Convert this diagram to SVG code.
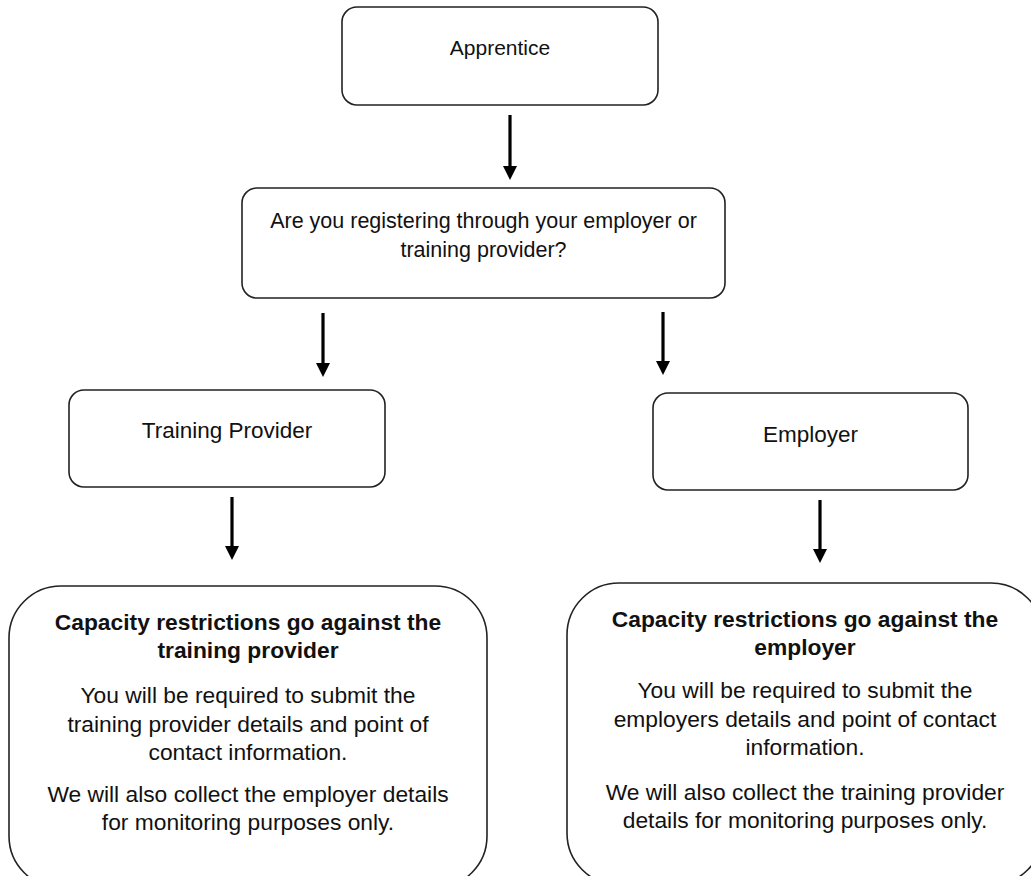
<svg xmlns="http://www.w3.org/2000/svg" width="1031" height="876" viewBox="0 0 1031 876">
<style>
.box{fill:#fff;stroke:#222;stroke-width:1.6}
.t{font-family:"Liberation Sans",Arial,sans-serif;fill:#111;text-anchor:middle}
.b{font-weight:bold}
.conn{stroke:#000;stroke-width:3.2;fill:none}
</style>
<defs>
<marker id="ah" viewBox="0 0 14 14" refX="1" refY="7" markerWidth="14" markerHeight="14" markerUnits="userSpaceOnUse" orient="auto">
<path d="M0,0 L14,7 L0,14 z" fill="#000"/>
</marker>
</defs>
<rect width="1031" height="876" fill="#fff"/>
<g id="connectors">
<line class="conn" x1="510" y1="115" x2="510" y2="167" marker-end="url(#ah)"/>
<line class="conn" x1="323" y1="313" x2="323" y2="364" marker-end="url(#ah)"/>
<line class="conn" x1="663" y1="312" x2="663" y2="362" marker-end="url(#ah)"/>
<line class="conn" x1="232" y1="497" x2="232" y2="547" marker-end="url(#ah)"/>
<line class="conn" x1="820" y1="500" x2="820" y2="550" marker-end="url(#ah)"/>
</g>
<g id="apprentice">
<rect class="box" x="342" y="7" width="316" height="98" rx="15"/>
<text class="t" x="500" y="55" font-size="21">Apprentice</text>
</g>
<g id="question">
<rect class="box" x="242" y="188" width="483" height="110" rx="15"/>
<text class="t" x="483.5" y="228" font-size="21.5">Are you registering through your employer or</text>
<text class="t" x="483.5" y="257" font-size="21.5">training provider?</text>
</g>
<g id="training-provider">
<rect class="box" x="69" y="390" width="316" height="97" rx="15"/>
<text class="t" x="227" y="438" font-size="22.5">Training Provider</text>
</g>
<g id="employer">
<rect class="box" x="653" y="393" width="315" height="97" rx="15"/>
<text class="t" x="810.5" y="442" font-size="22.5">Employer</text>
</g>
<g id="tp-result">
<rect class="box" x="9" y="586" width="478" height="302" rx="52"/>
<text class="t b" x="248" y="630" font-size="22.8">Capacity restrictions go against the</text>
<text class="t b" x="248" y="658" font-size="22.8">training provider</text>
<text class="t" x="248" y="703" font-size="22.8">You will be required to submit the</text>
<text class="t" x="248" y="732" font-size="22.8">training provider details and point of</text>
<text class="t" x="248" y="760" font-size="22.8">contact information.</text>
<text class="t" x="248" y="802" font-size="22.8">We will also collect the employer details</text>
<text class="t" x="248" y="830" font-size="22.8">for monitoring purposes only.</text>
</g>
<g id="emp-result">
<rect class="box" x="567" y="583" width="476" height="302" rx="52"/>
<text class="t b" x="805" y="627" font-size="22.8">Capacity restrictions go against the</text>
<text class="t b" x="805" y="655" font-size="22.8">employer</text>
<text class="t" x="805" y="698" font-size="22.8">You will be required to submit the</text>
<text class="t" x="805" y="727" font-size="22.8">employers details and point of contact</text>
<text class="t" x="805" y="755" font-size="22.8">information.</text>
<text class="t" x="805" y="800" font-size="22.8">We will also collect the training provider</text>
<text class="t" x="805" y="828" font-size="22.8">details for monitoring purposes only.</text>
</g>
</svg>
